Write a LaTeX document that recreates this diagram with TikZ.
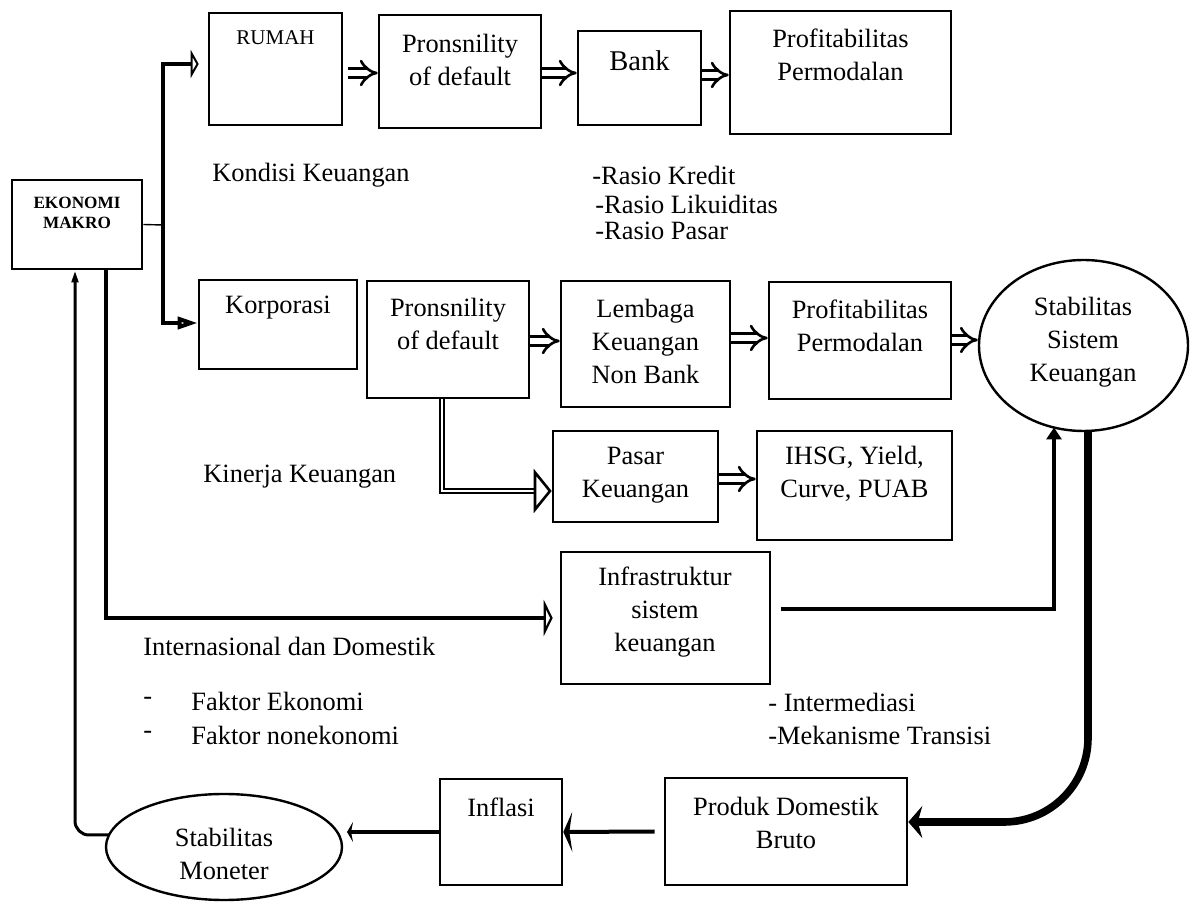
\documentclass[tikz,border=0pt]{standalone}
\usepackage{fontspec}
\setmainfont{Liberation Serif}
\usetikzlibrary{arrows.meta,shapes.geometric,fit,calc}
\newcommand\fmain{\fontsize{13.2pt}{16.5pt}\selectfont}
\newcommand\fsmall{\fontsize{10.5pt}{12pt}\selectfont}
\newcommand\fbank{\fontsize{14.3pt}{17pt}\selectfont}
\newcommand\fbold{\fontsize{8.6pt}{10pt}\selectfont\bfseries}
\begin{document}
\begin{tikzpicture}[x=0.5pt,y=-0.5pt,
  box/.style={draw, line width=1.3pt, inner sep=0pt},
  oval/.style={draw, ellipse, line width=1.2pt, inner sep=0pt},
  txt/.style={inner sep=0pt, align=center, font=\fmain},
  ltxt/.style={inner sep=0pt, anchor=west, font=\fmain},
  dbl/.style={double, line width=1.3pt, double distance=3.2pt, -{Implies[length=6pt,width=11pt]}},
  dblthin/.style={double, line width=1.3pt, double distance=0.7pt, -{Triangle[open,length=9pt,width=22pt]}},
]
\useasboundingbox (0,0) rectangle (1195,908);

% boxes
\node[box, fit={(209,13) (342,125)}] (rumah) {};
\node[box, fit={(379,15) (541,128)}] (pron1) {};
\node[box, fit={(578,31) (701,125)}] (bank) {};
\node[box, fit={(730,11) (951,134)}] (prof1) {};
\node[box, fit={(12,180) (142,269)}] (eko) {};
\node[box, fit={(199,280) (357,369)}] (korp) {};
\node[box, fit={(367,281) (529,398)}] (pron2) {};
\node[box, fit={(561,281) (730,407)}] (lemb) {};
\node[box, fit={(769,282) (951,399)}] (prof2) {};
\node[box, fit={(553,431) (718,522)}] (pasar) {};
\node[box, fit={(757,431) (952,540)}] (ihsg) {};
\node[box, fit={(561,552) (770,684)}] (infra) {};
\node[box, fit={(665,778) (907,885)}] (produk) {};
\node[box, fit={(440,779) (562,885)}] (inflasi) {};
\node[oval, minimum width=104.5pt, minimum height=85.5pt] (ssk) at (1083.5,345.5) {};
\node[oval, minimum width=118pt, minimum height=53pt] (sm) at (224,847) {};

% box texts
\node[txt, font=\fsmall] (trumah) at (275.5,38) {RUMAH};
\node[txt] (tpron1) at (460,59.5) {Pronsnility\\of default};
\node[txt, font=\fbank] (tbank) at (639.5,61) {Bank};
\node[txt] (tprof1) at (840.5,55) {Profitabilitas\\Permodalan};
\node[txt, font=\fbold] (teko) at (77,213) {EKONOMI\\MAKRO};
\node[txt] (tkorp) at (278,308) {Korporasi};
\node[txt] (tpron2) at (448,324) {Pronsnility\\of default};
\node[txt] (tlemb) at (645.5,341) {Lembaga\\Keuangan\\Non Bank};
\node[txt] (tprof2) at (860,326) {Profitabilitas\\Permodalan};
\node[txt] (tssk) at (1083,342) {Stabilitas\\Sistem\\Keuangan};
\node[txt] (tpasar) at (635.5,475) {Pasar\\Keuangan};
\node[txt] (tihsg) at (854.5,474) {IHSG, Yield,\\Curve, PUAB};
\node[txt] (tinfra) at (665,612) {Infrastruktur\\sistem\\keuangan};
\node[txt] (tprod) at (786,823) {Produk Domestik\\Bruto};
\node[txt] (tinfl) at (501,807) {Inflasi};
\node[txt] (tsm) at (224,853.5) {Stabilitas\\Moneter};

% free texts
\node[ltxt] (kondisi) at (212,175) {Kondisi Keuangan};
\node[ltxt] (r1) at (592,175) {-Rasio Kredit};
\node[ltxt] (r2) at (595,204) {-Rasio Likuiditas};
\node[ltxt] (r3) at (595,231) {-Rasio Pasar};
\node[ltxt] (kinerja) at (203,477) {Kinerja Keuangan};
\node[ltxt] (intl) at (143,646) {Internasional dan Domestik};
\node[ltxt] (d1) at (143,701) {-};
\node[ltxt] (f1) at (191,701) {Faktor Ekonomi};
\node[ltxt] (d2) at (143,735) {-};
\node[ltxt] (f2) at (191,735) {Faktor nonekonomi};
\node[ltxt] (im1) at (768,702) {- Intermediasi};
\node[ltxt] (im2) at (768,735) {-Mekanisme Transisi};

% coordinates
\coordinate (j) at (163,225);
\coordinate (s1) at ($(rumah.east)+(5,4)$);
\coordinate (s2) at ($(pron1.east)+(0,1.5)$);
\coordinate (s3) at ($(bank.east)+(0,-3)$);
\coordinate (s4) at ($(pron2.east)+(0,1.5)$);
\coordinate (s5) at ($(lemb.east)+(0,-6)$);
\coordinate (s6) at ($(prof2.east)+(0,-0.5)$);
\coordinate (s7) at ($(pron2.south)+(-6,0)$);
\coordinate (s8) at ($(pasar.east)+(0,2.5)$);
\coordinate (s9) at ($(eko.south)+(29,0)$);
\coordinate (s10) at ($(infra.east)+(10,-9)$);
\coordinate (e10) at ($(ssk.center)+(-29.5,82)$);
\coordinate (s11) at ($(ssk.center)+(4.5,85.4)$);
\coordinate (e11) at ($(produk.east)+(0,-9.5)$);

% connectors
\draw[line width=0.7pt] (eko.east) -- (j);
\draw[line width=2pt, -{Triangle[open,length=4pt,width=14pt]}] (j) |- ($(rumah.west)+(-9,-5)$);
\draw[line width=2pt, -{Triangle[open,length=10pt,width=6pt]}] (j) |- ($(korp.west)+(0,-1.5)$);

\draw[dbl] (s1) -- (s1 -| pron1.west);
\draw[dbl] (s2) -- (s2 -| bank.west);
\draw[dbl] (s3) -- (s3 -| prof1.west);
\draw[dbl] (s4) -- (s4 -| lemb.west);
\draw[dbl] (s5) -- (s5 -| prof2.west);
\draw[dbl] (s6) -- (s6 -| ssk.west);
\draw[dblthin] (s7) |- ($(pasar.west)+(0,14.5)$);
\draw[dbl] (s8) -- (s8 -| ihsg.west);

\draw[line width=2pt, -{Triangle[open,length=4.5pt,width=18pt]}, shorten >=3.5pt] (s9) |- (infra.west);
\draw[line width=1.6pt, -{Triangle[length=6pt,width=7.5pt]}] (s10) -| (e10);
\draw[line width=3.8pt, rounded corners=42pt, -{Stealth[length=7pt,width=16pt]}] (s11) |- (e11);
\draw[line width=2pt, -{Stealth[length=4.5pt,width=20pt,inset=1.5pt]}] ($(produk.west)+(-9,0)$) -- (inflasi.east);
\draw[line width=1.7pt, -{Stealth[length=3pt,width=10pt]}] (inflasi.west) -- ($(sm.center)+(123,-15)$);
\draw[line width=1.5pt, rounded corners=7pt, -{Triangle[length=6pt,width=3.2pt]}] ($(sm.center)+(-115,-12)$) -| ($(eko.south)+(-2,0)$);
\end{tikzpicture}
\end{document}
